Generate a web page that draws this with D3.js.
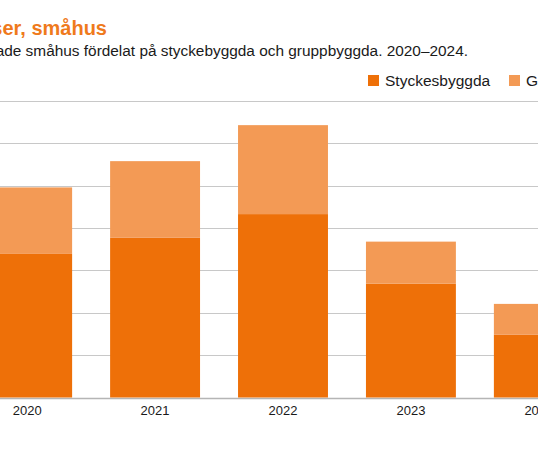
<!DOCTYPE html>
<html>
<head>
<meta charset="utf-8">
<script src="https://cdn.jsdelivr.net/npm/d3@7"></script>
<style>
  body { margin: 0; background: #fff; }
  svg { display: block; font-family: "Liberation Sans", Arial, sans-serif; }
</style>
</head>
<body>
<div id="chart"></div>
<script>
// data
var years = ["2020", "2021", "2022", "2023", "2024"];
var stycke = [3390, 3770, 4330, 2690, 1480];
var grupp = [1570, 1810, 2100, 990, 730];
var yTicks = [0, 1000, 2000, 3000, 4000, 5000, 6000, 7000];
var seriesNames = ["Styckesbyggda", "Gruppbyggda"];

var W = 538, H = 470;
var colors = ["#ee7008", "#f39a55"];

var svg = d3.select("#chart").append("svg")
    .attr("width", W)
    .attr("height", H);

// the chart is wider than the window, left part is cut off
var x = d3.scaleBand()
    .domain(years)
    .range([-37, 603])
    .paddingInner(0.297)
    .paddingOuter(0.15);

var y = d3.scaleLinear()
    .domain([0, 7000])
    .range([397.5, 101]);

// title + subtitle
svg.append("text")
    .attr("x", 107)
    .attr("y", 35)
    .attr("text-anchor", "end")
    .attr("fill", "#ef7a1c")
    .style("font-size", "20px")
    .style("font-weight", "bold")
    .text("Påbörjade byggprocesser, småhus");

svg.append("text")
    .attr("x", 468)
    .attr("y", 56)
    .attr("text-anchor", "end")
    .attr("fill", "#1a1a1a")
    .style("font-size", "15.4px")
    .text("Antal påbörjade småhus fördelat på styckebyggda och gruppbyggda. 2020–2024.");

// legend
var legend = svg.append("g").attr("transform", "translate(368,75)");
var legX = [0, 141];
seriesNames.forEach(function(name, i) {
    legend.append("rect")
        .attr("x", legX[i])
        .attr("y", 0)
        .attr("width", 11)
        .attr("height", 11)
        .attr("fill", colors[i]);
    legend.append("text")
        .attr("x", legX[i] + 17)
        .attr("y", 11)
        .attr("fill", "#1a1a1a")
        .style("font-size", "15.5px")
        .text(name);
});

// gridlines
svg.append("g")
    .selectAll("line")
    .data(yTicks)
    .join("line")
    .attr("x1", -60)
    .attr("x2", 660)
    .attr("y1", d => Math.round(y(d)) + 0.5)
    .attr("y2", d => Math.round(y(d)) + 0.5)
    .attr("stroke", d => d === 0 ? "#b5b5b5" : "#c8c8c8")
    .attr("stroke-width", d => d === 0 ? 1.5 : 1);

// stacked bars
var rows = years.map(function(yr, i) {
    return { year: yr, Styckesbyggda: stycke[i], Gruppbyggda: grupp[i] };
});
var stack = d3.stack().keys(seriesNames)(rows);

svg.append("g")
    .selectAll("g")
    .data(stack)
    .join("g")
    .attr("fill", (d, i) => colors[i])
    .selectAll("rect")
    .data(d => d)
    .join("rect")
    .attr("x", d => x(d.data.year))
    .attr("width", x.bandwidth())
    .attr("y", d => y(d[1]))
    .attr("height", d => y(d[0]) - y(d[1]));

// x axis labels
var xAxis = d3.axisBottom(x).tickSize(0).tickPadding(9);
var gx = svg.append("g")
    .attr("transform", "translate(0,397)")
    .call(xAxis);
gx.select(".domain").remove();
gx.selectAll("text")
    .attr("fill", "#1a1a1a")
    .style("font-size", "13px")
    .style("font-family", "'Liberation Sans', Arial, sans-serif");
</script>
</body>
</html>
